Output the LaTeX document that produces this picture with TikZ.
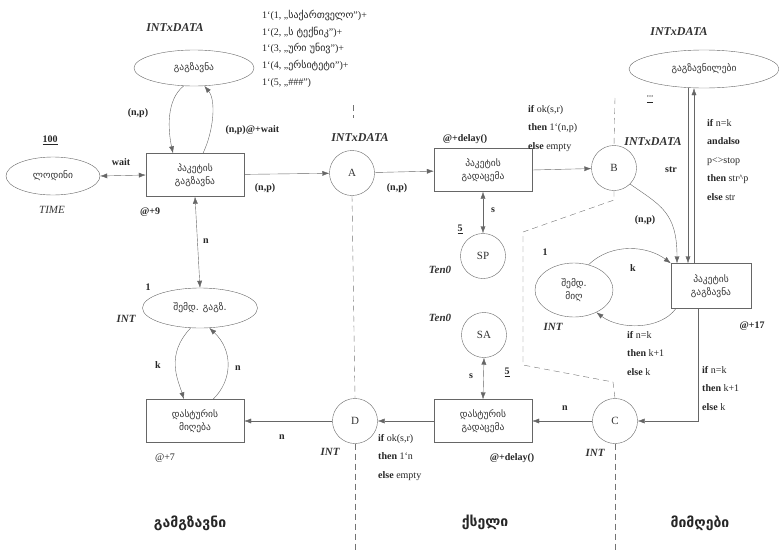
\documentclass[tikz,border=0pt]{standalone}
\usepackage{fontspec}
\setmainfont{Liberation Serif}
\newfontfamily\geo{DejaVu Sans}
\usepackage{xcolor}
\usetikzlibrary{shapes,arrows.meta,positioning,calc}

\tikzset{
  trans/.style={draw=black!60, rectangle, minimum width=98pt, minimum height=43pt, inner sep=1pt, align=center, text=black!80, font=\geo\fontsize{9.5}{13}\selectfont},
  place/.style={draw=black!60, circle, minimum size=45pt, inner sep=0pt, text=black!80, font=\fontsize{11}{12}\selectfont},
  oval/.style={draw=black!60, ellipse, inner sep=0pt, align=center, text=black!80, font=\geo\fontsize{9.5}{13}\selectfont},
  arc/.style={draw=black!60, -{Latex[length=7pt,width=5pt]}},
  both/.style={draw=black!60, {Latex[length=7pt,width=5pt]}-{Latex[length=7pt,width=5pt]}},
  lbl/.style={text=black!85, font=\bfseries\fontsize{10}{12}\selectfont},
  colset/.style={text=black!80, font=\bfseries\itshape\fontsize{12}{14}\selectfont},
  intset/.style={text=black!80, font=\bfseries\itshape\fontsize{11}{13}\selectfont},
  code/.style={anchor=north west, inner sep=0pt, align=left, text=black!85, font=\fontsize{10}{18.5}\selectfont},
  border/.style={draw=black!55, dash pattern=on 6pt off 4pt},
  region/.style={text=black!85, font=\geo\bfseries\fontsize{14}{16}\selectfont}
}

\begin{document}
\begin{tikzpicture}[x=1pt,y=-1pt]
  \useasboundingbox (0,0) rectangle (779,552);

  % sender
  \node[oval, minimum width=120pt, minimum height=36pt] (tosend) at (194,68) {გაგზავნა};
  \node[colset] (tosendcs) at (175,28) {INTxDATA};
  \node[code, font=\fontsize{10}{16.7}\selectfont] (tosendinit) at (262,10)
    {1`(1, „{\geo საქართველო}”)+\\1`(2, „{\geo ს ტექნიკ}”)+\\1`(3, „{\geo ური უნივ}”)+\\1`(4, „{\geo ერსიტეტი}”)+\\1`(5, „\#\#\#”)};
  \node[oval, minimum width=94pt, minimum height=38pt] (wait) at (53,176) {ლოდინი};
  \node[lbl] (waitinit) at (50,140) {\underline{100}};
  \node[intset, font=\itshape\fontsize{11}{13}\selectfont] (waitcs) at (52,210) {TIME};
  \node[trans] (send) at (195,175) {პაკეტის\\გაგზავნა};
  \node[lbl] (senddelay) at (150,212) {@+9};
  \node[oval, minimum width=115pt, minimum height=40pt] (nextsend) at (200,308) {შემდ. გაგზ.};
  \node[lbl] (nextsendinit) at (148,287) {1};
  \node[intset] (nextsendcs) at (126,319) {INT};
  \node[trans] (getack) at (195,421) {დასტურის\\მიღება};
  \node[lbl, font=\fontsize{10}{12}\selectfont] (getackdelay) at (165,458) {@+7};

  \draw[arc] (tosend.240) .. controls (166,100) and (168,130) .. ([xshift=-22pt]send.north);
  \draw[arc] ([xshift=8pt]send.north) .. controls (214,130) and (216,100) .. (tosend.300);
  \node[lbl] (l1) at (138,113) {(n,p)};
  \node[lbl, anchor=west] (l2) at (222,130) {(n,p)@+wait};
  \draw[both] (wait.east) -- (send.west);
  \node[lbl] (l3) at (121,162) {wait};
  \draw[both] (send.south) -- (nextsend.north);
  \node[lbl] (l4) at (206,241) {n};
  \draw[arc] (nextsend.245) .. controls (165,355) and (178,380) .. ([xshift=-11pt]getack.north);
  \draw[arc] ([xshift=18pt]getack.north) .. controls (233,380) and (233,350) .. (nextsend.295);
  \node[lbl] (l5) at (158,365) {k};
  \node[lbl] (l6) at (238,368) {n};

  % network
  \node[place] (A) at (352,173) {A};
  \node[colset] (Acs) at (360,138) {INTxDATA};
  \node[trans] (pass) at (483,170) {პაკეტის\\გადაცემა};
  \node[lbl] (passdelay) at (465,139) {@+delay()};
  \node[code] (passout) at (528,105) {\textbf{if} ok(s,r)\\\textbf{then} 1`(n,p)\\\textbf{else} empty};
  \node[place] (SP) at (483,256) {SP};
  \node[lbl] (SPinit) at (460,229) {\underline{5}};
  \node[intset] (SPcs) at (440,270) {Ten0};
  \node[place] (SA) at (484,335) {SA};
  \node[lbl] (SAinit) at (507,372) {\underline{5}};
  \node[intset] (SAcs) at (440,318) {Ten0};
  \node[trans] (passack) at (483,421) {დასტურის\\გადაცემა};
  \node[lbl] (passackdelay) at (512,458) {@+delay()};
  \node[place] (D) at (355,421) {D};
  \node[intset] (Dcs) at (330,452) {INT};
  \node[code] (passackout) at (378,434) {\textbf{if} ok(s,r)\\\textbf{then} 1`n\\\textbf{else} empty};

  \draw[arc] (send) -- (A);
  \draw[arc] (A) -- (pass);
  \node[lbl] (l7) at (265,188) {(n,p)};
  \node[lbl] (l8) at (397,188) {(n,p)};
  \draw[both] (pass.south) -- (SP.north);
  \node[lbl] (l9) at (493,210) {s};
  \draw[both] (SA.south) -- (passack.north);
  \node[lbl] (l10) at (471,376) {s};
  \draw[arc] (passack.west) -- (D.east);
  \draw[arc] (D.west) -- (getack.east);
  \node[lbl] (l11) at (282,437) {n};

  % receiver
  \node[oval, minimum width=150pt, minimum height=38pt] (received) at (704,69) {გაგზავნილები};
  \node[colset] (receivedcs) at (679,32) {INTxDATA};
  \node[lbl, font=\fontsize{7}{8}\selectfont] (receivedinit) at (650,99) {\underline{""}};
  \node[place] (B) at (614,168) {B};
  \node[colset] (Bcs) at (653,142) {INTxDATA};
  \node[trans, minimum width=80pt, minimum height=45pt] (recv) at (711,286) {პაკეტის\\გაგზავნა};
  \node[lbl] (recvdelay) at (752,326) {@+17};
  \node[oval, minimum width=78pt, minimum height=54pt] (nextrec) at (574,290) {შემდ.\\მიღ};
  \node[lbl] (nextrecinit) at (545,252) {1};
  \node[intset] (nextreccs) at (553,327) {INT};
  \node[place] (C) at (615,421) {C};
  \node[intset] (Ccs) at (595,453) {INT};
  \node[code] (recvstr) at (707,119) {\textbf{if} n=k\\\textbf{andalso}\\p<>stop\\\textbf{then} str\textasciicircum p\\\textbf{else} str};
  \node[code] (recvk) at (627,331) {\textbf{if} n=k\\\textbf{then} k+1\\\textbf{else} k};
  \node[code] (recvack) at (702,366) {\textbf{if} n=k\\\textbf{then} k+1\\\textbf{else} k};

  \draw[arc] (pass.east) -- (B);
  \draw[arc] (B.-45) .. controls (660,205) and (677,212) .. ([xshift=-34pt]recv.north);
  \node[lbl] (l12) at (645,220) {(n,p)};
  \draw[arc] ([xshift=-16pt]received.south) -- ([xshift=-23pt]recv.north);
  \draw[arc] ([xshift=-17pt]recv.north) -- ([xshift=-10pt]received.south);
  \node[lbl] (l13) at (671,170) {str};
  \draw[arc] (nextrec.60) .. controls (612,242) and (648,246) .. (recv.north west);
  \node[lbl] (l14) at (633,268) {k};
  \draw[arc] ([xshift=5pt]recv.south west) .. controls (660,330) and (620,330) .. (nextrec.-45);
  \draw[arc] ([xshift=-13pt]recv.south) |- (C.east);
  \draw[arc] (C.west) -- (passack.east);
  \node[lbl] (l15) at (565,408) {n};

  % borders
  \draw[border] (353,105) -- (353,118);
  \draw[border] (A.south) -- (D.north);
  \draw[border] (D.south) -- (355,552);
  \draw[border] (615,98) -- (B.north);
  \draw[border] (B.south) -- (614,200) -- (523,232) -- (523,365) -- (613,382) -- (C.north);
  \draw[border] (C.south) -- (615,552);

  \node[region] (sender) at (190,523) {გამგზავნი};
  \node[region] (network) at (485,522) {ქსელი};
  \node[region] (receiver) at (700,523) {მიმღები};
\end{tikzpicture}
\end{document}
